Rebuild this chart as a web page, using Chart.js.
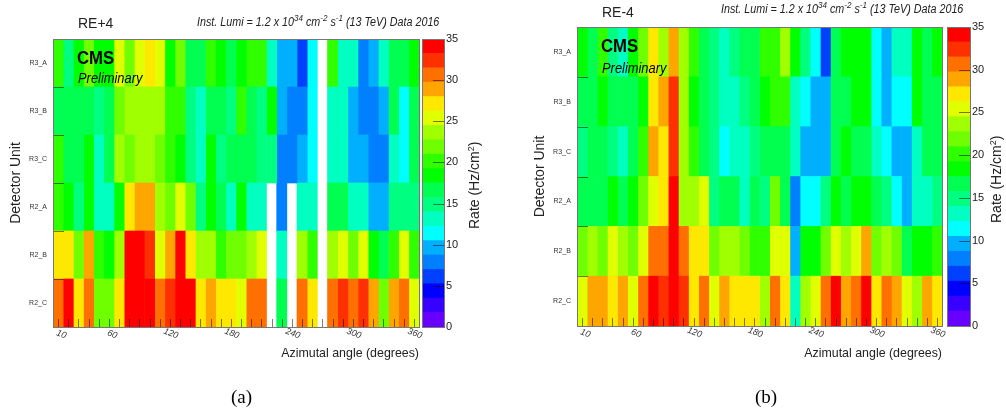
<!DOCTYPE html>
<html>
<head>
<meta charset="utf-8">
<script src="https://cdn.jsdelivr.net/npm/chart.js@4"></script>
<style>
  html, body { margin: 0; padding: 0; background: #fff; }
  body { position: relative; width: 1006px; height: 414px; overflow: hidden; font-family: "Liberation Sans", sans-serif; color: #222; }
  canvas { position: absolute; top: 0; }
  .note { position: absolute; white-space: nowrap; line-height: 1; transform-origin: left top; }
  .lumi { font-style: italic; font-size: 12px; transform: scaleX(0.895); }
  .lumi sup { font-size: 9px; line-height: 0; vertical-align: 5px; }
  .panel-name { font-size: 14px; }
  .cms { font-weight: bold; font-size: 19px; color: #000; transform: scaleX(0.88); }
  .prelim { font-style: italic; font-size: 14px; color: #000; transform: scaleX(0.92); }
  .rate { font-size: 14px; transform-origin: left top; transform: rotate(-90deg); }
  .rate sup { font-size: 9px; line-height: 0; vertical-align: 5px; }
  .caption { font-family: "Liberation Serif", serif; font-size: 19px; color: #000; }
</style>
</head>
<body>
<canvas id="heatA"></canvas>
<canvas id="barA"></canvas>
<canvas id="heatB"></canvas>
<canvas id="barB"></canvas>

<div class="note panel-name" style="left:78px;top:16px">RE+4</div>
<div class="note lumi" style="left:197px;top:16px">Inst. Lumi = 1.2 x 10<sup>34</sup> cm<sup>-2</sup> s<sup>-1</sup> (13 TeV) Data 2016</div>
<div class="note cms" style="left:77px;top:48px">CMS</div>
<div class="note prelim" style="left:78px;top:71px">Preliminary</div>
<div class="note rate" style="left:467px;top:229px">Rate (Hz/cm<sup>2</sup>)</div>
<div class="note caption" style="left:231px;top:387px">(a)</div>

<div class="note panel-name" style="left:602px;top:5px">RE-4</div>
<div class="note lumi" style="left:721px;top:3px">Inst. Lumi = 1.2 x 10<sup>34</sup> cm<sup>-2</sup> s<sup>-1</sup> (13 TeV) Data 2016</div>
<div class="note cms" style="left:601px;top:36px">CMS</div>
<div class="note prelim" style="left:602px;top:61px">Preliminary</div>
<div class="note rate" style="left:989px;top:223px">Rate (Hz/cm<sup>2</sup>)</div>
<div class="note caption" style="left:755px;top:387px">(b)</div>

<script>
// ========== data ==========
const rowLabels = ['R3_A', 'R3_B', 'R3_C', 'R2_A', 'R2_B', 'R2_C'];
const azimuthBins = [10, 20, 30, 40, 50, 60, 70, 80, 90, 100, 110, 120, 130, 140, 150, 160, 170, 180, 190, 200, 210, 220, 230, 240, 250, 260, 270, 280, 290, 300, 310, 320, 330, 340, 350, 360];
const azimuthLabels = [10, 60, 120, 180, 240, 300, 360];
const rateTicks = [0, 5, 10, 15, 20, 25, 30, 35];

// RE+4 rate in Hz/cm2, one list per detector unit, null = no data
const plusR3A = [20.1, 14.9, 18.4, 21.9, 18.4, 18.4, 25.4, 21.9, 25.4, 27.1, 25.4, 18.4, 21.9, 16.6, 16.6, 20.1, 18.4, 16.6, 18.4, 20.1, 20.1, 13.1, 9.6, 9.6, 6.1, 11.4, null, 20.1, 13.1, 13.1, 7.9, 9.6, 13.1, 16.6, 16.6, 18.4];
const plusR3B = [16.6, 16.6, 16.6, 16.6, 14.9, 16.6, 21.9, 23.6, 23.6, 23.6, 23.6, 20.1, 20.1, 14.9, 13.1, 16.6, 16.6, 14.9, 20.1, 16.6, 14.9, 18.4, 9.6, 7.9, 7.9, 11.4, null, 13.1, 13.1, 9.6, 7.9, 7.9, 9.6, 16.6, 11.4, 16.6];
const plusR3C = [20.1, 16.6, 16.6, 18.4, 13.1, 16.6, 23.6, 21.9, 23.6, 23.6, 21.9, 20.1, 18.4, 14.9, 13.1, 18.4, 14.9, 16.6, 16.6, 16.6, 14.9, 14.9, 7.9, 7.9, 9.6, 11.4, null, 13.1, 13.1, 9.6, 9.6, 7.9, 7.9, 13.1, 11.4, 16.6];
const plusR2A = [20.1, 18.4, 14.9, 18.4, 13.1, 13.1, 18.4, 27.1, 28.9, 28.9, 23.6, 21.9, 25.4, 21.9, 14.9, 18.4, 16.6, 13.1, 18.4, 13.1, 13.1, null, 7.9, null, 13.1, 13.1, null, 16.6, 16.6, 13.1, 13.1, 9.6, 9.6, 14.9, 14.9, 14.9];
const plusR2B = [27.1, 27.1, 21.9, 28.9, 20.1, 18.4, 23.6, 34.1, 34.1, 32.4, 25.4, 28.9, 34.1, 27.1, 23.6, 23.6, 20.1, 21.9, 21.9, 23.6, 25.4, null, 13.1, null, 23.6, 20.1, null, 23.6, 25.4, 21.9, 25.4, 18.4, 16.6, 20.1, 25.4, 20.1];
const plusR2C = [30.6, 34.1, 27.1, 30.6, 21.9, 21.9, 27.1, 34.1, 34.1, 34.1, 30.6, 32.4, 34.1, 34.1, 27.1, 28.9, 27.1, 27.1, 25.4, 30.6, 30.6, null, 16.6, null, 30.6, 27.1, null, 30.6, 32.4, 30.6, 32.4, 28.9, 21.9, 28.9, 30.6, 25.4];

// RE-4
const minusR3A = [18.4, 16.6, 20.1, 14.9, 13.1, 18.4, 21.9, 27.1, 23.6, 28.9, 23.6, 20.1, 16.6, 14.9, 13.1, 14.9, 16.6, 16.6, 20.1, 20.1, 23.6, 18.4, 14.9, 11.4, 6.1, 16.6, 18.4, 18.4, 18.4, 11.4, 9.6, 13.1, 13.1, 18.4, 16.6, 18.4];
const minusR3B = [16.6, 16.6, 18.4, 16.6, 16.6, 16.6, 18.4, 27.1, 28.9, 32.4, 23.6, 18.4, 16.6, 14.9, 13.1, 13.1, 14.9, 16.6, 18.4, 20.1, 20.1, 13.1, 11.4, 9.6, 9.6, 16.6, 16.6, 18.4, 18.4, 11.4, 9.6, 11.4, 11.4, 18.4, 16.6, 16.6];
const minusR3C = [14.9, 16.6, 16.6, 14.9, 13.1, 16.6, 20.1, 28.9, 27.1, 32.4, 23.6, 20.1, 16.6, 14.9, 11.4, 13.1, 13.1, 14.9, 16.6, 16.6, 16.6, 13.1, 9.6, 9.6, 9.6, 16.6, 18.4, 16.6, 16.6, 13.1, 11.4, 9.6, 9.6, 13.1, 16.6, 16.6];
const minusR2A = [16.6, 16.6, 16.6, 18.4, 16.6, 18.4, 21.9, 25.4, 27.1, 34.1, 23.6, 23.6, 25.4, 14.9, 16.6, 16.6, 13.1, 16.6, 14.9, 21.9, 16.6, 7.9, 11.4, 11.4, 14.9, 18.4, 16.6, 18.4, 18.4, 16.6, 14.9, 11.4, 9.6, 13.1, 13.1, 14.9];
const minusR2B = [21.9, 23.6, 21.9, 25.4, 23.6, 21.9, 25.4, 30.6, 30.6, 34.1, 30.6, 27.1, 27.1, 21.9, 23.6, 23.6, 21.9, 20.1, 20.1, 25.4, 25.4, 9.6, 18.4, 18.4, 21.9, 25.4, 23.6, 25.4, 28.9, 21.9, 23.6, 21.9, 16.6, 18.4, 18.4, 20.1];
const minusR2C = [25.4, 28.9, 28.9, 27.1, 28.9, 25.4, 30.6, 34.1, 32.4, 34.1, 32.4, 27.1, 30.6, 25.4, 28.9, 27.1, 27.1, 27.1, 23.6, 30.6, 27.1, 13.1, 23.6, 25.4, 30.6, 34.1, 28.9, 30.6, 34.1, 27.1, 30.6, 28.9, 25.4, 23.6, 28.9, 27.1];

// ========== palette ==========
const rateMax = 35;
const palette = ['#6800ff', '#3800ff', '#0000ff', '#0040ff', '#0080ff', '#00b0ff', '#00ffff', '#00ffc0', '#00ff80', '#00ff50', '#00ff00', '#30ff00', '#70ff00', '#a0ff00', '#e0ff00', '#ffe800', '#ffa500', '#ff7000', '#ff3000', '#ff0000'];
const bandWidth = rateMax / palette.length;

function rateColor(rate) {
  const band = Math.min(palette.length - 1, Math.floor(rate / bandWidth));
  return palette[band];
}

// ========== plugins ==========
// ticks of the ROOT style axes point into the frame, and a thin frame goes round the plot
const rootFrame = {
  id: 'rootFrame',
  afterDatasetsDraw(chart, args, opts) {
    const { ctx, chartArea: area, scales } = chart;
    ctx.save();
    ctx.strokeStyle = 'rgba(0,0,0,0.5)';
    ctx.lineWidth = 1;
    ctx.beginPath();
    if (opts.kind === 'heat') {
      azimuthBins.forEach(a => {
        const x = Math.round(scales.x.getPixelForValue(a)) + 0.5;
        ctx.moveTo(x, area.bottom);
        ctx.lineTo(x, area.bottom - 8);
      });
      rowLabels.slice(1).forEach((label, i) => {
        const y = Math.round(scales.y.getPixelForValue(i + 0.5)) + 0.5;
        ctx.moveTo(area.left, y);
        ctx.lineTo(area.left + 11, y);
      });
    } else {
      rateTicks.forEach(r => {
        const y = Math.round(scales.y.getPixelForValue(r)) + 0.5;
        ctx.moveTo(area.right, y);
        ctx.lineTo(area.right - 11, y);
      });
    }
    ctx.stroke();
    ctx.strokeStyle = '#777';
    ctx.strokeRect(area.left + 0.5, area.top + 0.5, area.width, area.height);
    ctx.restore();
  },
};

// ========== charts ==========
function sizeCanvas(id, left, width) {
  const canvas = document.getElementById(id);
  canvas.width = width;
  canvas.height = 414;
  canvas.style.left = left + 'px';
  canvas.style.width = width + 'px';
  canvas.style.height = '414px';
  return canvas;
}

function drawHeat(id, rows, box) {
  const canvasLeft = box.left - 53;
  const canvasWidth = box.right - canvasLeft + 16;
  const canvas = sizeCanvas(id, canvasLeft, canvasWidth);

  const datasets = azimuthBins.map((a, col) => ({
    data: rows.map(row => (row[col] === null ? null : [a - 5, a + 5])),
    backgroundColor: rows.map(row => rateColor(row[col])),
    borderWidth: 0,
    barPercentage: 1,
    categoryPercentage: 1,
    grouped: false,
  }));

  new Chart(canvas, {
    type: 'bar',
    data: { labels: rowLabels, datasets },
    plugins: [rootFrame],
    options: {
      indexAxis: 'y',
      responsive: false,
      animation: false,
      layout: { autoPadding: false, padding: { top: box.top, right: canvasWidth - (box.right - canvasLeft), left: 0, bottom: 0 } },
      plugins: { legend: { display: false }, tooltip: { enabled: false }, rootFrame: { kind: 'heat' } },
      scales: {
        x: {
          type: 'linear',
          min: 5,
          max: 365,
          afterBuildTicks(scale) { scale.ticks = azimuthBins.map(value => ({ value })); },
          afterFit(scale) { scale.height = 414 - box.bottom; },
          grid: { display: false, drawTicks: false },
          border: { display: false },
          ticks: {
            autoSkip: false,
            minRotation: -20,
            maxRotation: -20,
            padding: 4,
            labelOffset: 8,
            color: '#333',
            font: { family: 'Liberation Sans', size: 9, style: 'italic' },
            callback: value => (azimuthLabels.includes(value) ? String(value) : ''),
          },
          title: {
            display: true,
            text: 'Azimutal angle (degrees)',
            align: 'end',
            color: '#222',
            padding: { top: 0, bottom: 53 },
            font: { family: 'Liberation Sans', size: 12.4 },
          },
        },
        y: {
          afterFit(scale) { scale.width = 53; },
          grid: { display: false, drawTicks: false },
          border: { display: false },
          ticks: { padding: 6, color: '#333', font: { family: 'Liberation Sans', size: 7 } },
          title: {
            display: true,
            text: 'Detector Unit',
            color: '#222',
            padding: { top: 8, bottom: 0 },
            font: { family: 'Liberation Sans', size: 14 },
          },
        },
      },
    },
  });
}

function drawColorBar(id, box) {
  const canvasWidth = 42;
  const barWidth = box.barRight - box.barLeft;
  const canvas = sizeCanvas(id, box.barLeft, canvasWidth);

  const datasets = palette.map((color, band) => ({
    data: [[band * bandWidth, (band + 1) * bandWidth]],
    backgroundColor: color,
    borderWidth: 0,
    barPercentage: 1,
    categoryPercentage: 1,
    grouped: false,
  }));

  new Chart(canvas, {
    type: 'bar',
    data: { labels: ['rate'], datasets },
    plugins: [rootFrame],
    options: {
      responsive: false,
      animation: false,
      layout: { autoPadding: false, padding: { top: box.top, bottom: 414 - box.bottom, left: 0, right: 0 } },
      plugins: { legend: { display: false }, tooltip: { enabled: false }, rootFrame: { kind: 'bar' } },
      scales: {
        x: { display: false },
        y: {
          position: 'right',
          min: 0,
          max: rateMax,
          afterBuildTicks(scale) { scale.ticks = rateTicks.map(value => ({ value })); },
          afterFit(scale) { scale.width = canvasWidth - barWidth; },
          grid: { display: false, drawTicks: false },
          border: { display: false },
          ticks: { padding: 2, color: '#222', font: { family: 'Liberation Sans', size: 11 } },
        },
      },
    },
  });
}

const boxA = { left: 53, right: 419, top: 39, bottom: 327, barLeft: 422, barRight: 444 };
const boxB = { left: 577, right: 942, top: 27, bottom: 326, barLeft: 947, barRight: 970 };

drawHeat('heatA', [plusR3A, plusR3B, plusR3C, plusR2A, plusR2B, plusR2C], boxA);
drawColorBar('barA', boxA);
drawHeat('heatB', [minusR3A, minusR3B, minusR3C, minusR2A, minusR2B, minusR2C], boxB);
drawColorBar('barB', boxB);
</script>
</body>
</html>
